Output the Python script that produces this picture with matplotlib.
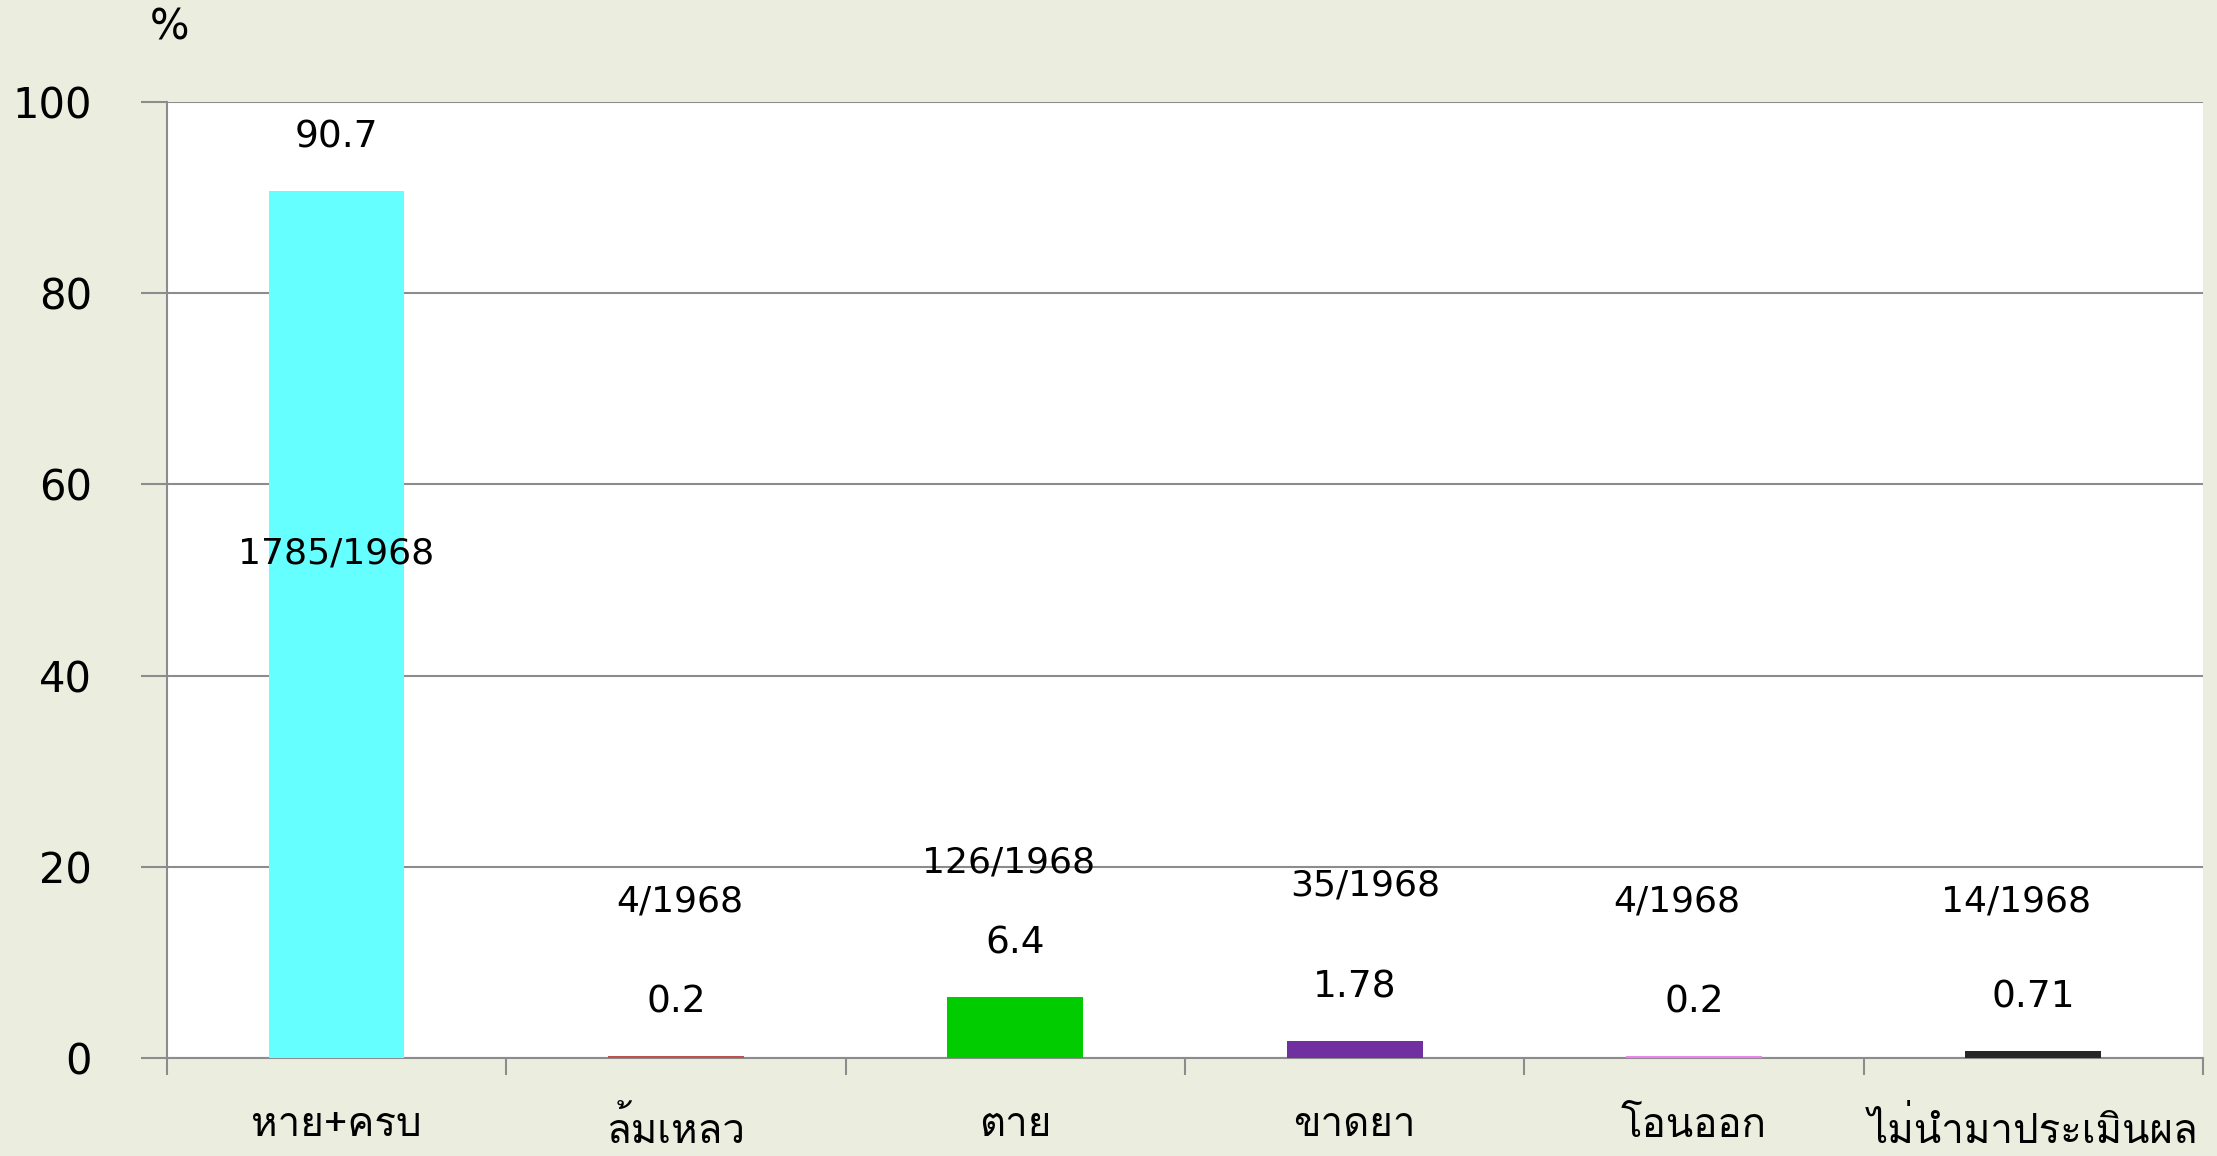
import matplotlib
matplotlib.use("Agg")
import matplotlib.pyplot as plt

categories = ["หาย+ครบ", "ล้มเหลว", "ตาย", "ขาดยา", "โอนออก", "ไม่นำมาประเมินผล"]
values = [90.7, 0.2, 6.4, 1.78, 0.2, 0.71]
value_labels = ["90.7", "0.2", "6.4", "1.78", "0.2", "0.71"]
fractions = ["1785/1968", "4/1968", "126/1968", "35/1968", "4/1968", "14/1968"]
colors = ["#66FFFF", "#C0504D", "#00CC00", "#7030A0", "#EE82EE", "#262626"]

BG = "#EBEEDF"
GRID = "#8C8C8C"

fig = plt.figure(figsize=(22.17, 11.56), dpi=100, facecolor=BG)
ax = fig.add_axes([0.0753, 0.0848, 0.9184, 0.827])
ax.set_facecolor("white")

x = list(range(len(categories)))
ax.bar(x, values, width=0.4, color=colors, zorder=3)

ax.set_xlim(-0.5, len(categories) - 0.5)
ax.set_ylim(0, 100)
ax.set_yticks(range(0, 101, 20))
ax.yaxis.grid(True, color=GRID, linewidth=1.5, zorder=0)
ax.tick_params(axis="y", length=19, width=1.5, color=GRID, pad=35, labelsize=30)

ax.set_xticks(x)
ax.set_xticklabels(categories, family=["Loma", "DejaVu Sans"], fontsize=29)
ax.set_xticks([i + 0.5 for i in range(-1, len(categories))], minor=True)
ax.tick_params(axis="x", which="major", length=0, pad=36)
ax.tick_params(axis="x", which="minor", length=12, width=1.5, color=GRID)

for s in ["top", "right"]:
    ax.spines[s].set_visible(False)
for s in ["left", "bottom"]:
    ax.spines[s].set_color(GRID)
    ax.spines[s].set_linewidth(1.5)

# value labels sit a fixed step above each bar
for i, (v, lab) in enumerate(zip(values, value_labels)):
    ax.text(i, v + 5.6, lab, ha="center", va="center", fontsize=27, zorder=4)

# counts, placed where the original chart had them
frac_y = [52.8, 16.4, 20.4, 18.0, 16.4, 16.4]
frac_dx = [0.0, 0.01, -0.02, 0.03, -0.05, -0.05]
for i, lab in enumerate(fractions):
    ax.text(i + frac_dx[i], frac_y[i], lab, ha="center", va="center", fontsize=26, zorder=4)

fig.text(170 / 2217, 1 - 28 / 1156, "%", ha="center", va="center", fontsize=30)

fig.savefig("out.png", dpi=100, facecolor=BG)
